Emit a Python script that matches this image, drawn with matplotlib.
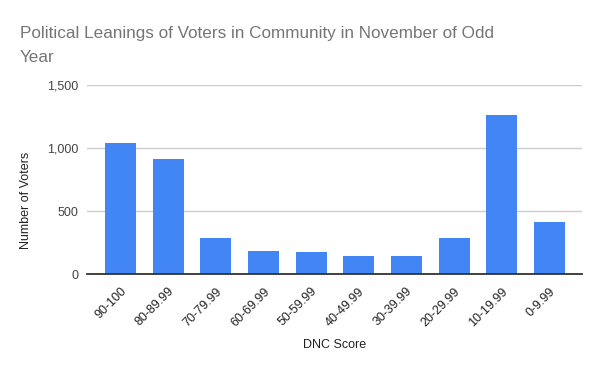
import matplotlib
matplotlib.use("Agg")
import matplotlib.pyplot as plt
from matplotlib.ticker import FuncFormatter

categories = ["90-100", "80-89.99", "70-79.99", "60-69.99", "50-59.99",
              "40-49.99", "30-39.99", "20-29.99", "10-19.99", "0-9.99"]
voters = [1042, 915, 288, 185, 177, 145, 145, 288, 1264, 415]
yticks = [0, 500, 1000, 1500]

plt.rcParams['font.family'] = ['Liberation Sans', 'DejaVu Sans']

fig = plt.figure(figsize=(6, 3.71), dpi=100)
ax = fig.add_axes([0.1445, 0.2607, 0.825, 0.5093])

x = list(range(len(categories)))
ax.bar(x, voters, width=0.65, color="#4285F4", zorder=3)
ax.set_xlim(-0.71, 9.68)
ax.set_ylim(0, 1500)
ax.set_yticks(yticks)
ax.yaxis.set_major_formatter(FuncFormatter(lambda v, p: f"{int(v):,}"))
ax.grid(axis='y', color="#cccccc", linewidth=1, zorder=0)
for s in ["top", "right", "left"]:
    ax.spines[s].set_visible(False)
ax.spines["bottom"].set_color("#333333")
ax.spines["bottom"].set_linewidth(1.3)
ax.spines["bottom"].set_zorder(4)
ax.tick_params(axis='both', length=0)
ax.tick_params(axis='y', labelsize=9, labelcolor="#444444", pad=6)
ax.set_xticks(x)
ax.set_xticklabels(categories, rotation=45, ha='right', rotation_mode='anchor',
                   fontsize=9, color="#222222")
ax.tick_params(axis='x', pad=8)

fig.text(0.5575, 1 - 345/371, "DNC Score", ha='center', va='center', fontsize=9, color="#222222")
fig.text(26/600, 1 - 200/371, "Number of Voters", ha='center', va='center', rotation=90,
         fontsize=9, color="#222222")
fig.text(20/600, 1 - 38/371, "Political Leanings of Voters in Community in November of Odd",
         ha='left', va='baseline', fontsize=12.3, color="#757575")
fig.text(20/600, 1 - 62/371, "Year",
         ha='left', va='baseline', fontsize=12.3, color="#757575")

fig.savefig("out.png", dpi=100, facecolor="white")
